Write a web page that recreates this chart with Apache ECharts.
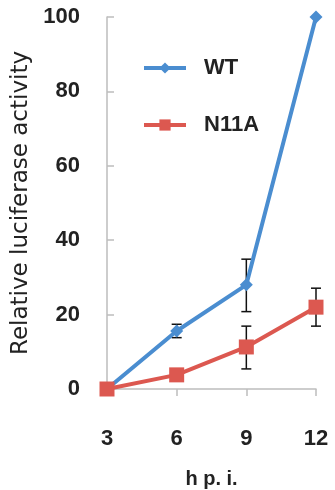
<!DOCTYPE html>
<html><head><meta charset="utf-8">
<script src="https://cdn.jsdelivr.net/npm/echarts@6/dist/echarts.min.js"></script>
<style>html,body{margin:0;padding:0;background:#fff}#c{width:335px;height:490px}</style>
</head><body><div id="c"></div>
<script>
var categories = ['3', '6', '9', '12'];
var wtValues = [0, 15.6, 28, 100];
var wtErrLow = [null, 13.8, 20.8, null];
var wtErrHigh = [null, 17.4, 34.9, null];
var n11aValues = [0, 3.8, 11.3, 22];
var n11aErrLow = [null, null, 5.4, 16.9];
var n11aErrHigh = [null, null, 16.9, 27.1];
var yTicks = [0, 20, 40, 60, 80, 100];

function errData(lo, hi) {
  var out = [];
  for (var i = 0; i < categories.length; i++) {
    if (lo[i] != null) out.push([i, lo[i], hi[i]]);
  }
  return out;
}
function renderErr(params, api) {
  var x = api.value(0);
  var lo = api.coord([x, api.value(1)]);
  var hi = api.coord([x, api.value(2)]);
  var hw = 5;
  var st = {stroke: '#111', lineWidth: 1.5};
  return {type: 'group', children: [
    {type: 'line', shape: {x1: lo[0], y1: lo[1], x2: hi[0], y2: hi[1]}, style: st},
    {type: 'line', shape: {x1: lo[0]-hw, y1: lo[1], x2: lo[0]+hw, y2: lo[1]}, style: st},
    {type: 'line', shape: {x1: hi[0]-hw, y1: hi[1], x2: hi[0]+hw, y2: hi[1]}, style: st}
  ]};
}
var blue = '#4a8dd0', red = '#dc5850';
var chart = echarts.init(document.getElementById('c'), null, {renderer: 'canvas'});
chart.setOption({
  animation: false,
  backgroundColor: '#fff',
  grid: {left: 107, right: 19, top: 17, bottom: 101, containLabel: false, outerBoundsMode: 'none'},
  legend: {
    orient: 'vertical', left: 137, top: 52, itemGap: 35,
    itemWidth: 42, itemHeight: 14,
    lineStyle: {width: 4},
    textStyle: {fontFamily: 'Liberation Sans', fontWeight: 'bold', fontSize: 22, color: '#222', padding: [0,0,0,13]},
    data: ['WT', 'N11A']
  },
  xAxis: {
    type: 'category', data: categories, boundaryGap: false,
    axisLine: {lineStyle: {color: '#bdbdbd', width: 1.5}},
    axisTick: {alignWithLabel: true, length: 7, lineStyle: {color: '#bdbdbd', width: 1.5}},
    axisLabel: {margin: 39, fontFamily: 'Liberation Sans', fontWeight: 'bold', fontSize: 22, color: '#222'},
    name: 'h p. i.', nameLocation: 'middle', nameGap: 80,
    nameTextStyle: {fontFamily: 'Liberation Sans', fontWeight: 'bold', fontSize: 20, color: '#222'}
  },
  yAxis: {
    type: 'value', min: 0, max: 100, interval: 20,
    axisLine: {show: true, lineStyle: {color: '#bdbdbd', width: 1.5}},
    axisTick: {show: true, inside: true, length: 7, lineStyle: {color: '#bdbdbd', width: 1.5}},
    splitLine: {show: false},
    axisLabel: {margin: 27, fontFamily: 'Liberation Sans', fontWeight: 'bold', fontSize: 22, color: '#222',
      formatter: function (v) { return yTicks.indexOf(v) >= 0 ? String(v) : ''; }},
    name: 'Relative luciferase activity', nameLocation: 'middle', nameGap: 70,
    nameTextStyle: {fontFamily: 'DejaVu Sans', fontSize: 23, color: '#222'}
  },
  series: [
    {type: 'custom', name: 'errWT', renderItem: renderErr, data: errData(wtErrLow, wtErrHigh), z: 1, silent: true},
    {type: 'custom', name: 'errN', renderItem: renderErr, data: errData(n11aErrLow, n11aErrHigh), z: 1, silent: true},
    {type: 'line', name: 'WT', data: wtValues, symbol: 'diamond', symbolSize: 13,
      lineStyle: {color: blue, width: 4}, itemStyle: {color: blue}, z: 3},
    {type: 'line', name: 'N11A', data: n11aValues, symbol: 'rect', symbolSize: 15,
      lineStyle: {color: red, width: 4}, itemStyle: {color: red}, z: 4}
  ]
});
</script></body></html>
